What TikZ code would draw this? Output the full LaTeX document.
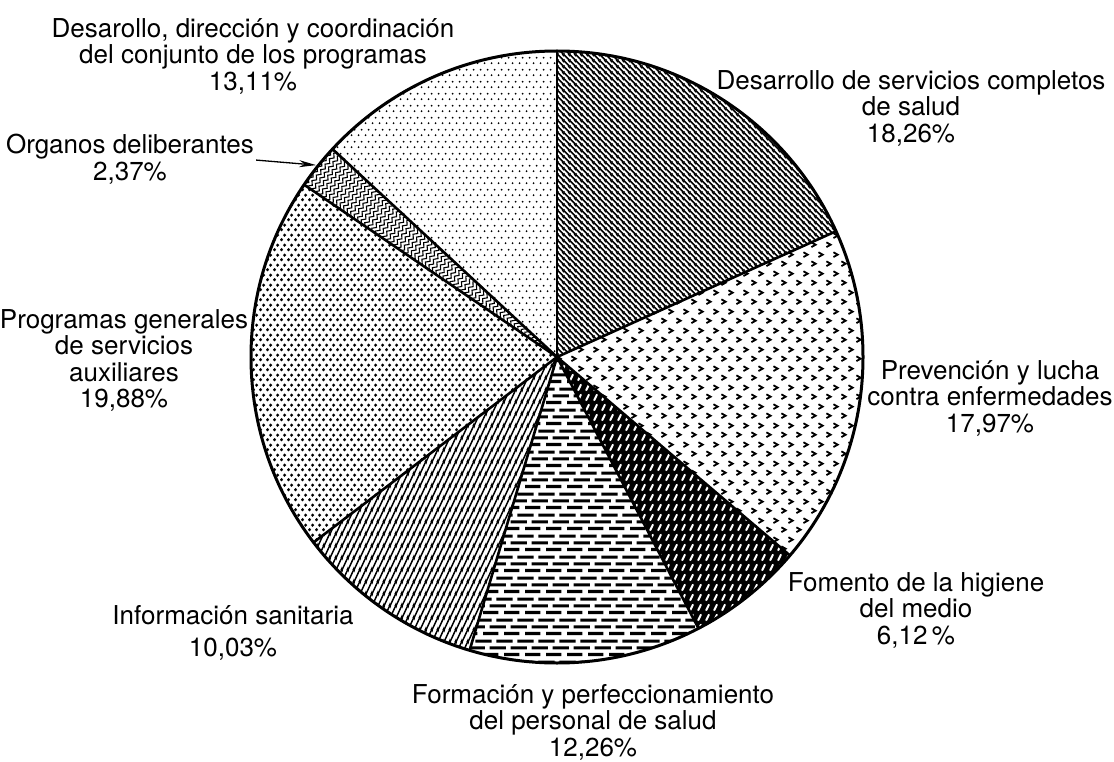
\documentclass[tikz,border=0pt]{standalone}
\usepackage{fontspec}
\setmainfont{TeX Gyre Heros}
\usetikzlibrary{patterns,decorations.pathmorphing,arrows.meta}

% diagonal lines "\" (servicios completos)
\pgfdeclarepatternformonly{diagNW}{\pgfpoint{0pt}{0pt}}{\pgfpoint{6pt}{6pt}}{\pgfpoint{6pt}{6pt}}{%
  \pgfsetlinewidth{1.9pt}%
  \pgfpathmoveto{\pgfpoint{-7pt}{7pt}}\pgfpathlineto{\pgfpoint{1pt}{-1pt}}%
  \pgfpathmoveto{\pgfpoint{-1pt}{7pt}}\pgfpathlineto{\pgfpoint{7pt}{-1pt}}%
  \pgfpathmoveto{\pgfpoint{5pt}{7pt}}\pgfpathlineto{\pgfpoint{13pt}{-1pt}}%
  \pgfusepath{stroke}}
% steep lines "/" (informacion)
\pgfdeclarepatternformonly{diagSteep}{\pgfpoint{0pt}{0pt}}{\pgfpoint{6pt}{12pt}}{\pgfpoint{6pt}{12pt}}{%
  \pgfsetlinewidth{1.7pt}%
  \pgfpathmoveto{\pgfpoint{-6.5pt}{-1pt}}\pgfpathlineto{\pgfpoint{0.5pt}{13pt}}%
  \pgfpathmoveto{\pgfpoint{-0.5pt}{-1pt}}\pgfpathlineto{\pgfpoint{6.5pt}{13pt}}%
  \pgfpathmoveto{\pgfpoint{5.5pt}{-1pt}}\pgfpathlineto{\pgfpoint{12.5pt}{13pt}}%
  \pgfusepath{stroke}}
% short dashes (formacion)
\pgfdeclarepatternformonly{dashRows}{\pgfpoint{0pt}{0pt}}{\pgfpoint{21pt}{21pt}}{\pgfpoint{21pt}{21pt}}{%
  \pgfpathrectangle{\pgfpoint{0pt}{1pt}}{\pgfpoint{16pt}{3.2pt}}%
  \pgfpathrectangle{\pgfpoint{7pt}{8pt}}{\pgfpoint{16pt}{3.2pt}}%
  \pgfpathrectangle{\pgfpoint{-14pt}{8pt}}{\pgfpoint{16pt}{3.2pt}}%
  \pgfpathrectangle{\pgfpoint{14pt}{15pt}}{\pgfpoint{16pt}{3.2pt}}%
  \pgfpathrectangle{\pgfpoint{-7pt}{15pt}}{\pgfpoint{16pt}{3.2pt}}%
  \pgfusepath{fill}}
% white slashes on black (fomento)
\pgfdeclarepatternformonly{slashMarks}{\pgfpoint{0pt}{0pt}}{\pgfpoint{8pt}{10pt}}{\pgfpoint{8pt}{10pt}}{%
  \pgfsetlinewidth{2.2pt}\pgfsetroundcap%
  \pgfpathmoveto{\pgfpoint{2.5pt}{2pt}}\pgfpathlineto{\pgfpoint{5.5pt}{8pt}}%
  \pgfusepath{stroke}}
% chevrons ">" (prevencion)
\pgfdeclarepatternformonly{chevrons}{\pgfpoint{0pt}{0pt}}{\pgfpoint{15pt}{19pt}}{\pgfpoint{15pt}{19pt}}{%
  \pgfsetlinewidth{1.9pt}%
  \pgfpathmoveto{\pgfpoint{1.5pt}{7pt}}\pgfpathlineto{\pgfpoint{6pt}{4.5pt}}\pgfpathlineto{\pgfpoint{1.5pt}{2pt}}%
  \pgfpathmoveto{\pgfpoint{9pt}{16.5pt}}\pgfpathlineto{\pgfpoint{13.5pt}{14pt}}\pgfpathlineto{\pgfpoint{9pt}{11.5pt}}%
  \pgfusepath{stroke}}
% big dots (programas generales)
\pgfdeclarepatternformonly{dotsBig}{\pgfpoint{0pt}{0pt}}{\pgfpoint{7pt}{10pt}}{\pgfpoint{7pt}{10pt}}{%
  \pgfpathcircle{\pgfpoint{1.75pt}{2.5pt}}{1.9pt}%
  \pgfpathcircle{\pgfpoint{5.25pt}{7.5pt}}{1.9pt}%
  \pgfusepath{fill}}
% small dots (direccion y coordinacion)
\pgfdeclarepatternformonly{dotsSmall}{\pgfpoint{0pt}{0pt}}{\pgfpoint{7pt}{12pt}}{\pgfpoint{7pt}{12pt}}{%
  \pgfpathcircle{\pgfpoint{1.75pt}{3pt}}{1.1pt}%
  \pgfpathcircle{\pgfpoint{5.25pt}{9pt}}{1.1pt}%
  \pgfusepath{fill}}

\begin{document}
\begin{tikzpicture}[x=1pt,y=1pt,
  lbl/.style={align=center, anchor=north, inner sep=0pt, font=\fontsize{26}{26.5}\selectfont},
  sector/.style 2 args={insert path={(C) -- ++(#1:306) arc[start angle=#1, end angle=#2, radius=306] -- cycle}},
  radius line/.style={line width=2.6pt, line cap=round},
  rim/.style={line width=3pt}]
\useasboundingbox (0,0) rectangle (1114,-762);
\fill[white] (0,0) rectangle (1114,-762);
\coordinate (C) at (557,-357);

% sectors (clockwise from the top)
\fill[pattern=diagNW]    [sector={90}{24.264}];
\fill[pattern=chevrons]  [sector={24.264}{-40.428}];
\fill[black]             [sector={-40.428}{-62.46}];
\fill[pattern=slashMarks, pattern color=white] [sector={-40.428}{-62.46}];
\fill[pattern=dashRows]  [sector={-62.46}{-106.596}];
\fill[pattern=diagSteep] [sector={-106.596}{-142.704}];
\fill[pattern=dotsBig]   [sector={-142.704}{-214.272}];
\begin{scope}
  \clip [sector={-214.272}{-222.804}];
  \begin{scope}[shift={(C)}, rotate=141.462]
    \foreach \r in {3,7.5,...,312}
      \draw[line width=1.1pt, decorate, decoration={snake, segment length=7pt, amplitude=1.6pt}] (\r,-40) -- (\r,40);
  \end{scope}
\end{scope}
\fill[pattern=dotsSmall] [sector={-222.804}{-270}];

% boundaries
\foreach \a in {90,24.264,-40.428,-62.46,-106.596,-142.704,-214.272,-222.804}
  \draw[radius line] (C) -- ++(\a:306);
\draw[rim] (C) circle[radius=306];

% labels
\node[lbl] (lblDir)  at (253,-18)  {Desarollo, dirección y coordinación\\del conjunto de los programas\\13,11\%};
\node[lbl] (lblOrg)  at (130,-134) {Organos deliberantes\\2,37\%};
\node[lbl] (lblServ) at (911,-70)  {Desarrollo de servicios completos\\de salud\\18,26\%};
\node[lbl] (lblPrev) at (990,-360) {Prevención y lucha\\contra enfermedades\\17,97\%};
\node[lbl] (lblFom)  at (916,-572) {Fomento de la higiene\\del medio\\6,12\,\%};
\node[lbl] (lblForm) at (593,-684) {Formación y perfeccionamiento\\del personal de salud\\12,26\%};
\node[lbl] (lblInf)  at (233,-605) {Información sanitaria\\[6pt]10,03\%};
\node[lbl] (lblProg) at (124,-309) {Programas generales\\de servicios\\auxiliares\\19,88\%};

% arrow to the small sector
\path (C) ++(141.462:308) coordinate (arrowtip);
\draw[line width=1.3pt, -{Stealth[length=17pt,width=7pt]}] ([xshift=2pt,yshift=-1pt]lblOrg.east) -- (arrowtip);
\end{tikzpicture}
\end{document}
